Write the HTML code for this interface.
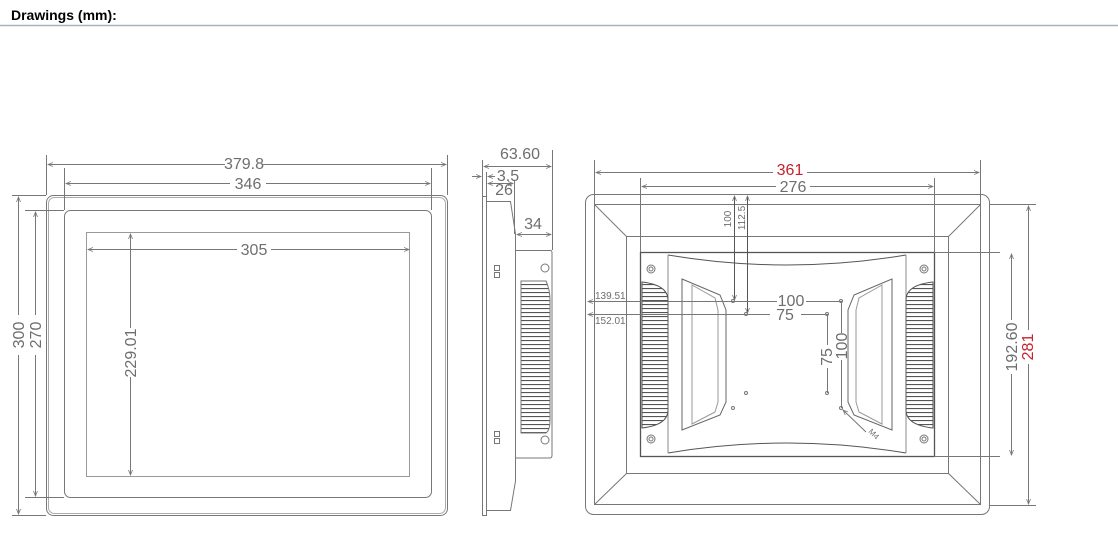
<!DOCTYPE html>
<html><head><meta charset="utf-8"><style>
body{margin:0;background:#fff;width:1118px;height:557px;overflow:hidden}
svg{display:block}
text{font-family:"Liberation Sans",sans-serif;fill:#6e6e6e}
</style></head><body>
<svg width="1118" height="557" viewBox="0 0 1118 557">
<defs>
<marker id="a" markerWidth="6" markerHeight="6" refX="5" refY="3" orient="auto-start-reverse"><path d="M0,1 L5,3 L0,5" fill="none" stroke="#777" stroke-width="0.8"/></marker>
<pattern id="fins" width="6" height="4" patternUnits="userSpaceOnUse"><rect width="6" height="4" fill="#fff"/><line x1="0" y1="0.5" x2="6" y2="0.5" stroke="#555" stroke-width="1.2"/></pattern>
</defs>
<text x="11" y="20" style="font-weight:bold;font-size:14px;fill:#000">Drawings (mm):</text>
<line x1="0" y1="25.5" x2="1118" y2="25.5" stroke="#a8b4c0" stroke-width="1.5"/>

<g fill="none" stroke="#777" stroke-width="1">
<!-- front view -->
<rect x="46.5" y="195.5" width="401" height="320" rx="7"/>
<rect x="48.5" y="197.5" width="397" height="316" rx="6" stroke="#aaa"/>
<rect x="64.5" y="210.5" width="367" height="287" rx="6"/>
<rect x="86.5" y="232.5" width="323" height="244" stroke="#999"/>
<line x1="46.5" y1="155" x2="46.5" y2="195"/><line x1="447.5" y1="155" x2="447.5" y2="195"/>
<line x1="64.5" y1="168" x2="64.5" y2="210"/><line x1="431.5" y1="168" x2="431.5" y2="210"/>
<line x1="48" y1="164.5" x2="225" y2="164.5" marker-start="url(#a)"/><line x1="262" y1="164.5" x2="446" y2="164.5" marker-end="url(#a)"/>
<line x1="66" y1="183.5" x2="230" y2="183.5" marker-start="url(#a)"/><line x1="266" y1="183.5" x2="430" y2="183.5" marker-end="url(#a)"/>
<line x1="88" y1="249.5" x2="237" y2="249.5" marker-start="url(#a)"/><line x1="271" y1="249.5" x2="409" y2="249.5" marker-end="url(#a)"/>
<line x1="130.5" y1="234" x2="130.5" y2="328" marker-start="url(#a)"/><line x1="130.5" y1="377" x2="130.5" y2="475" marker-end="url(#a)"/>
<line x1="12" y1="195.5" x2="46" y2="195.5"/><line x1="12" y1="515.5" x2="46" y2="515.5"/>
<line x1="25" y1="210.5" x2="64" y2="210.5"/><line x1="25" y1="497.5" x2="64" y2="497.5"/>
<line x1="18.5" y1="197" x2="18.5" y2="315" marker-start="url(#a)"/><line x1="18.5" y1="355" x2="18.5" y2="514" marker-end="url(#a)"/>
<line x1="35.5" y1="212" x2="35.5" y2="315" marker-start="url(#a)"/><line x1="35.5" y1="355" x2="35.5" y2="496" marker-end="url(#a)"/>

<!-- side view -->
<rect x="482.5" y="196.5" width="4" height="319"/>
<path d="M486.5,201.5 H510.5 L515.5,234 V481 L510.5,510.5 H486.5"/>
<path d="M515.5,250.5 H550 Q552,250 552,253 V455 Q552,458 550,458 H515.5"/>
<path d="M521,281 H546 Q550,290 550,300 V420 Q550,430 546,433 H521 Z" fill="url(#fins)"/>
<circle cx="545" cy="268" r="4"/><circle cx="545" cy="440" r="4"/>
<rect x="494.5" y="265.5" width="5" height="5"/><rect x="494.5" y="272.5" width="5" height="5"/>
<rect x="494.5" y="431.5" width="5" height="5"/><rect x="494.5" y="438.5" width="5" height="5"/>
<line x1="482.5" y1="160" x2="482.5" y2="196"/><line x1="552.5" y1="150" x2="552.5" y2="250"/>
<line x1="486.5" y1="172" x2="486.5" y2="200"/><line x1="514.5" y1="180" x2="514.5" y2="234"/>
<line x1="484" y1="166.5" x2="551" y2="166.5" marker-start="url(#a)" marker-end="url(#a)"/>
<line x1="472" y1="176.5" x2="481" y2="176.5" marker-end="url(#a)"/><line x1="495" y1="176.5" x2="488" y2="176.5" marker-end="url(#a)"/>
<line x1="488" y1="183.5" x2="513" y2="183.5" marker-start="url(#a)" marker-end="url(#a)"/>
<line x1="517" y1="234.5" x2="551" y2="234.5" marker-start="url(#a)" marker-end="url(#a)"/>

<!-- back view -->
<rect x="585.5" y="194.5" width="404" height="320" rx="8"/>
<rect x="594.5" y="204.5" width="386" height="300"/>
<rect x="626.5" y="236.5" width="322" height="237"/>
<line x1="594.5" y1="204.5" x2="626.5" y2="236.5"/><line x1="980.5" y1="204.5" x2="948.5" y2="236.5"/>
<line x1="594.5" y1="504.5" x2="626.5" y2="473.5"/><line x1="980.5" y1="504.5" x2="948.5" y2="473.5"/>
<rect x="640.5" y="252.5" width="294" height="204" stroke="#555" stroke-width="1.3"/>
<path d="M668,255 Q787,275 906,255" stroke="#555"/><path d="M668,453 Q787,433 906,453" stroke="#555"/>
<line x1="668" y1="255" x2="668" y2="453" stroke="#888"/><line x1="906" y1="255" x2="906" y2="453" stroke="#888"/>
<path d="M642,282 Q668,285 668,300 V410 Q668,425 642,428 Z" fill="url(#fins)" stroke="#555"/>
<path d="M933,282 Q906,285 906,300 V410 Q906,425 933,428 Z" fill="url(#fins)" stroke="#555"/>
<path d="M682,279 L720,295 L726,310 V402 L720,415 L682,430 Z" stroke="#666"/>
<path d="M692,285 L715,298 L718,310 V402 L715,412 L692,424 Z" stroke="#999"/>
<path d="M892,279 L854,295 L848,310 V402 L854,415 L892,430 Z" stroke="#666"/>
<path d="M882,285 L859,298 L856,310 V402 L859,412 L882,424 Z" stroke="#999"/>
<circle cx="651" cy="269" r="4"/><circle cx="924" cy="269" r="4"/><circle cx="651" cy="439" r="4"/><circle cx="924" cy="439" r="4"/>
<circle cx="651" cy="269" r="2"/><circle cx="924" cy="269" r="2"/><circle cx="651" cy="439" r="2"/><circle cx="924" cy="439" r="2"/>
<circle cx="733" cy="301" r="1.5"/><circle cx="746" cy="314" r="1.5"/><circle cx="841" cy="301" r="1.5"/><circle cx="827" cy="314" r="1.5"/>
<circle cx="827" cy="393" r="1.5"/><circle cx="841" cy="408" r="1.5"/><circle cx="746" cy="393" r="1.5"/><circle cx="733" cy="408" r="1.5"/>
<line x1="594.5" y1="160" x2="594.5" y2="204"/><line x1="980.5" y1="160" x2="980.5" y2="204"/>
<line x1="640.5" y1="178" x2="640.5" y2="252"/><line x1="934.5" y1="178" x2="934.5" y2="252"/>
<line x1="596" y1="172.5" x2="773" y2="172.5" marker-start="url(#a)"/><line x1="807" y1="172.5" x2="979" y2="172.5" marker-end="url(#a)"/>
<line x1="642" y1="186.5" x2="776" y2="186.5" marker-start="url(#a)"/><line x1="810" y1="186.5" x2="933" y2="186.5" marker-end="url(#a)"/>
<line x1="734.5" y1="196" x2="734.5" y2="300" stroke="#555" marker-start="url(#a)" marker-end="url(#a)"/>
<line x1="747.5" y1="196" x2="747.5" y2="313" stroke="#555" marker-start="url(#a)" marker-end="url(#a)"/>
<line x1="588" y1="301.5" x2="777" y2="301.5" marker-start="url(#a)"/><line x1="806" y1="301.5" x2="841" y2="301.5"/>
<line x1="588" y1="314.5" x2="770" y2="314.5" marker-start="url(#a)"/><line x1="801" y1="314.5" x2="827" y2="314.5"/>
<line x1="827.5" y1="314" x2="827.5" y2="345"/><line x1="827.5" y1="368" x2="827.5" y2="393"/>
<line x1="841.5" y1="301" x2="841.5" y2="333"/><line x1="841.5" y1="360" x2="841.5" y2="408"/>
<line x1="866" y1="432" x2="843" y2="410" marker-end="url(#a)"/>
<line x1="934" y1="252.5" x2="1000" y2="252.5"/><line x1="934" y1="456.5" x2="1000" y2="456.5"/>
<line x1="990" y1="204.5" x2="1036" y2="204.5"/><line x1="990" y1="505.5" x2="1036" y2="505.5"/>
<line x1="1011.5" y1="254" x2="1011.5" y2="320" marker-start="url(#a)"/><line x1="1011.5" y1="374" x2="1011.5" y2="455" marker-end="url(#a)"/>
<line x1="1028.5" y1="206" x2="1028.5" y2="330" marker-start="url(#a)"/><line x1="1028.5" y1="364" x2="1028.5" y2="504" marker-end="url(#a)"/>
</g>

<g font-size="16">
<text x="244" y="169" text-anchor="middle">379.8</text>
<text x="248" y="189" text-anchor="middle">346</text>
<text x="254" y="255" text-anchor="middle">305</text>
<text transform="translate(136,353) rotate(-90)" text-anchor="middle">229.01</text>
<text transform="translate(24,335) rotate(-90)" text-anchor="middle">300</text>
<text transform="translate(41,335) rotate(-90)" text-anchor="middle">270</text>
<text x="520" y="159" text-anchor="middle">63.60</text>
<text x="508" y="181" text-anchor="middle">3.5</text>
<text x="504" y="195" text-anchor="middle">26</text>
<text x="533" y="229" text-anchor="middle">34</text>
<text x="790" y="175" text-anchor="middle" style="fill:#c8202c">361</text>
<text x="793" y="192" text-anchor="middle">276</text>
<text x="791" y="306" text-anchor="middle">100</text>
<text x="785" y="320" text-anchor="middle">75</text>
<text transform="translate(832,357) rotate(-90)" text-anchor="middle">75</text>
<text transform="translate(847,346) rotate(-90)" text-anchor="middle">100</text>
<text transform="translate(1017,347) rotate(-90)" text-anchor="middle">192.60</text>
<text transform="translate(1033,347) rotate(-90)" text-anchor="middle" style="fill:#c8202c">281</text>
</g>
<g font-size="10">
<text transform="translate(731,219) rotate(-90)" text-anchor="middle">100</text>
<text transform="translate(745,218) rotate(-90)" text-anchor="middle">112.5</text>
<text x="595" y="299">139.51</text>
<text x="595" y="324">152.01</text>
<text transform="translate(868,432) rotate(45)" font-size="8">M4</text>
</g>
</svg>
</body></html>
